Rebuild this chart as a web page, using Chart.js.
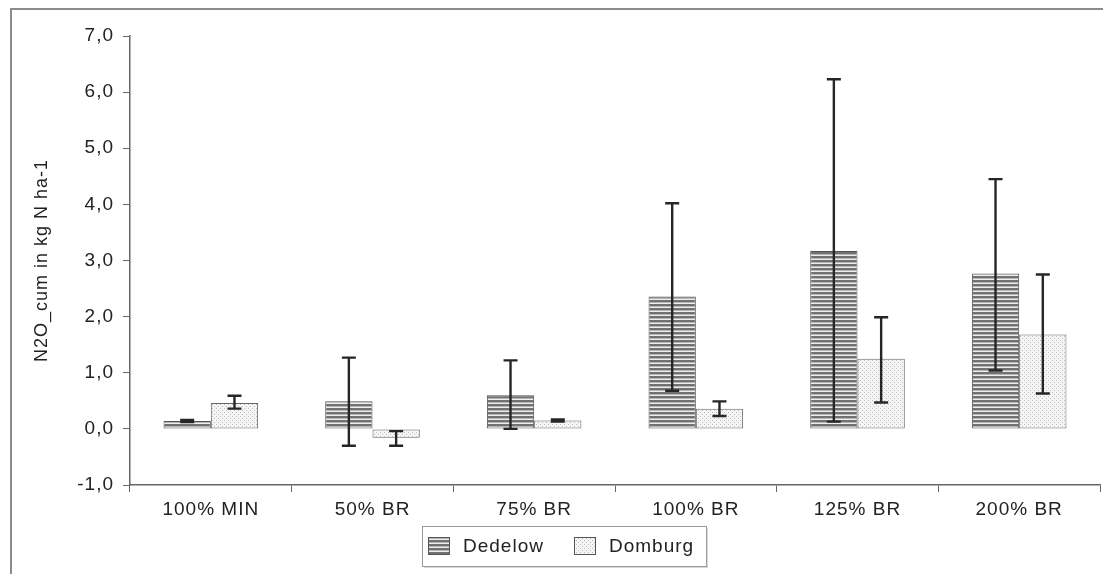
<!DOCTYPE html>
<html>
<head>
<meta charset="utf-8">
<script src="https://cdn.jsdelivr.net/npm/chart.js@4/dist/chart.umd.min.js"></script>
<style>
  html, body { margin: 0; padding: 0; background: #fff; overflow: hidden; }
  #wrap { position: relative; width: 1103px; height: 574px; }
  #frame { position: absolute; left: 10px; top: 8px; width: 1200px; height: 700px;
           border-top: 2px solid #8c8c8c; border-left: 2px solid #8c8c8c; }
  #c { position: absolute; left: 0; top: 0; }
</style>
</head>
<body>
<div id="wrap">
  <div id="frame"></div>
  <canvas id="c" width="1103" height="574"></canvas>
</div>
<script>
// Treatments and cumulative N2O emissions (kg N ha-1) for both sites
const categories = ['100% MIN', '50% BR', '75% BR', '100% BR', '125% BR', '200% BR'];
const seriesNames = ['Dedelow', 'Domburg'];

const dedelowMean = [0.14, 0.49, 0.60, 2.36, 3.17, 2.77];
const dedelowLow  = [0.12, -0.30, 0.00, 0.68, 0.13, 1.04];
const dedelowHigh = [0.16, 1.27, 1.22, 4.02, 6.23, 4.45];

const domburgMean = [0.46, -0.16, 0.15, 0.36, 1.25, 1.68];
const domburgLow  = [0.36, -0.30, 0.13, 0.23, 0.47, 0.63];
const domburgHigh = [0.59, -0.04, 0.17, 0.49, 1.99, 2.75];

const yTicks = [-1, 0, 1, 2, 3, 4, 5, 6, 7];
const yTitle = 'N2O_cum in kg N ha-1';

const FONT = "'Liberation Sans', Arial, sans-serif";
const TEXT = '#222';

// Hatch fills for the two series
function makePattern(w, h, painter) {
  const cv = document.createElement('canvas');
  cv.width = w; cv.height = h;
  const g = cv.getContext('2d');
  painter(g);
  return g.createPattern(cv, 'repeat');
}
const stripes = makePattern(4, 4, g => {
  g.fillStyle = '#efefef'; g.fillRect(0, 0, 4, 4);
  g.fillStyle = '#727272'; g.fillRect(0, 0, 4, 2);
  g.fillStyle = '#b4b4b4'; g.fillRect(0, 2, 4, 1);
});
const dots = makePattern(4, 4, g => {
  g.fillStyle = '#f5f5f5'; g.fillRect(0, 0, 4, 4);
  g.fillStyle = '#bcbcbc'; g.fillRect(0, 0, 1, 1); g.fillRect(2, 2, 1, 1);
});

// Widened glyph spacing for all canvas text
const spacing = {
  id: 'spacing',
  beforeUpdate(chart) { chart.ctx.letterSpacing = '1px'; },
  beforeDraw(chart) { chart.ctx.letterSpacing = '1px'; }
};

// Min/max whiskers on each bar
const errorBars = {
  id: 'errorBars',
  afterDatasetsDraw(chart) {
    const { ctx, scales: { y } } = chart;
    ctx.save();
    ctx.strokeStyle = '#262626';
    ctx.lineWidth = 2.4;
    chart.data.datasets.forEach((ds, i) => {
      const meta = chart.getDatasetMeta(i);
      meta.data.forEach((bar, j) => {
        const x = bar.x;
        const yl = y.getPixelForValue(ds.errLow[j]);
        const yh = y.getPixelForValue(ds.errHigh[j]);
        const cap = 7;
        ctx.beginPath();
        ctx.moveTo(x, yl); ctx.lineTo(x, yh);
        ctx.moveTo(x - cap, yh); ctx.lineTo(x + cap, yh);
        ctx.moveTo(x - cap, yl); ctx.lineTo(x + cap, yl);
        ctx.stroke();
      });
    });
    ctx.restore();
  }
};

// Boxed legend below the axis
const legendBox = {
  id: 'legendBox',
  afterDraw(chart, args, opts) {
    const { ctx } = chart;
    const { left, top, width, height, items } = opts;
    ctx.save();
    ctx.fillStyle = '#d8d8d8';
    ctx.fillRect(left + 2, top + 2, width, height);
    ctx.fillStyle = '#fff';
    ctx.fillRect(left, top, width, height);
    ctx.strokeStyle = '#9a9a9a';
    ctx.lineWidth = 1;
    ctx.strokeRect(left + 0.5, top + 0.5, width, height);
    ctx.font = '19px ' + FONT;
    ctx.textBaseline = 'middle';
    chart.data.datasets.forEach((ds, i) => {
      const it = items[i];
      const cy = top + height / 2;
      ctx.fillStyle = ds.backgroundColor;
      ctx.fillRect(it.x, cy - 9, 22, 18);
      ctx.strokeStyle = '#555';
      ctx.strokeRect(it.x + 0.5, cy - 9 + 0.5, 21, 17);
      ctx.fillStyle = TEXT;
      ctx.fillText(ds.label, it.x + 35, cy + 1);
    });
    ctx.restore();
  }
};

new Chart(document.getElementById('c'), {
  type: 'bar',
  data: {
    labels: categories,
    datasets: [
      { label: seriesNames[0], data: dedelowMean, errLow: dedelowLow, errHigh: dedelowHigh,
        backgroundColor: stripes, borderColor: '#555', borderWidth: 1, borderSkipped: false },
      { label: seriesNames[1], data: domburgMean, errLow: domburgLow, errHigh: domburgHigh,
        backgroundColor: dots, borderColor: '#666', borderWidth: 1, borderSkipped: false }
    ]
  },
  options: {
    responsive: false,
    animation: false,
    events: [],
    layout: { padding: { left: 0, right: 3, top: 36, bottom: 0 } },
    datasets: { bar: { categoryPercentage: 0.585, barPercentage: 1.0 } },
    plugins: {
      legend: { display: false },
      tooltip: { enabled: false },
      legendBox: { left: 422, top: 526, width: 284, height: 40,
                   items: [{ x: 428 }, { x: 574 }] }
    },
    scales: {
      x: {
        offset: true,
        grid: { offset: true, drawOnChartArea: false, drawTicks: true, tickLength: 7, color: '#666', lineWidth: 1 },
        border: { color: '#666', width: 1.5 },
        ticks: { color: TEXT, font: { family: FONT, size: 19 }, padding: 6, maxRotation: 0 },
        afterFit(s) { s.height = 89; }
      },
      y: {
        min: yTicks[0],
        max: yTicks[yTicks.length - 1],
        afterBuildTicks(s) { s.ticks = yTicks.map(v => ({ value: v })); },
        grid: { drawOnChartArea: false, drawTicks: true, tickLength: 7, color: '#666', lineWidth: 1 },
        border: { color: '#666', width: 1.5 },
        ticks: {
          color: TEXT, font: { family: FONT, size: 19 }, padding: 9,
          callback: v => v.toFixed(1).replace('.', ',')
        },
        title: { display: true, text: yTitle, color: TEXT, font: { family: FONT, size: 18 },
                 padding: { top: 31, bottom: 0 } },
        afterFit(s) { s.width = 130; }
      }
    }
  },
  plugins: [spacing, errorBars, legendBox]
});
</script>
</body>
</html>
